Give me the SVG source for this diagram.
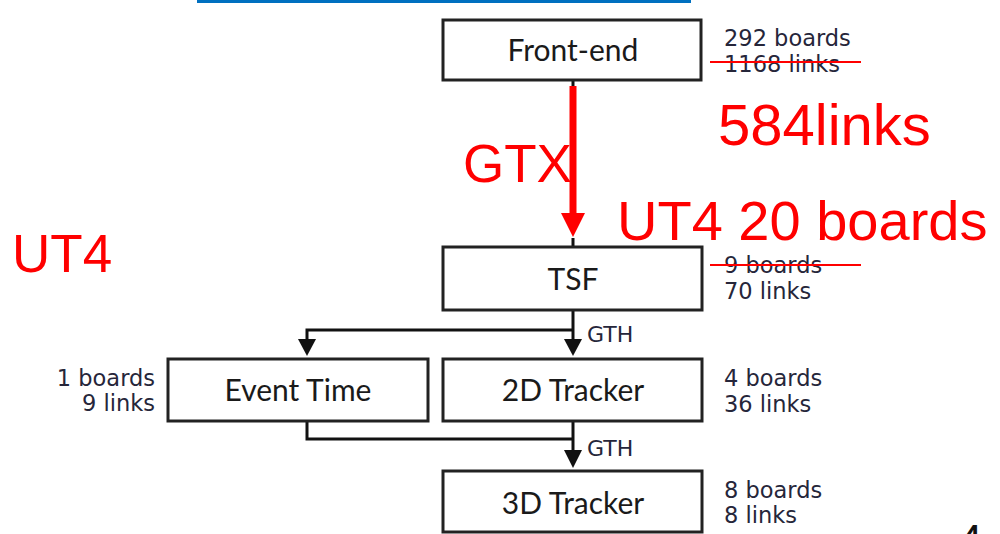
<svg xmlns="http://www.w3.org/2000/svg" width="1000" height="534" viewBox="0 0 1000 534">
<style>
.box{fill:#fff;stroke:#222;stroke-width:3}
.lbl{font-family:Lato,"Liberation Sans",sans-serif;font-size:30px;fill:#1a1a1a;text-anchor:middle}
.side{font-family:"DejaVu Sans",sans-serif;font-size:22.5px;fill:#26263a}
.gth{font-family:"DejaVu Sans",sans-serif;font-size:22px;fill:#26263a}
.red{font-family:"Liberation Sans",Arial,sans-serif;fill:#ff0000}
.conn{fill:none;stroke:#111;stroke-width:3}
.strike{stroke:#ff0000;stroke-width:2}
</style>
<rect x="197" y="0" width="494" height="3" fill="#0070c0"/>
<g id="connectors">
<line class="conn" x1="573" y1="80" x2="573" y2="86"/>
<line class="conn" x1="573" y1="238" x2="573" y2="247"/>
<path d="M573,86 L573,214" stroke="#ff0000" stroke-width="7" fill="none"/>
<path d="M561,213 L585,213 L573,237 Z" fill="#ff0000"/>
<path class="conn" d="M573,310 L573,340"/>
<path class="conn" d="M573,330 L307,330 L307,340"/>
<path d="M564,339 L582,339 L573,356 Z" fill="#111"/>
<path d="M298,339 L316,339 L307,356 Z" fill="#111"/>
<path class="conn" d="M307,421 L307,439 L573,439"/>
<path class="conn" d="M573,421 L573,452"/>
<path d="M564,450 L582,450 L573,468 Z" fill="#111"/>
<text class="gth" x="587" y="342">GTH</text>
<text class="gth" x="587" y="456">GTH</text>
<text class="red" x="463" y="182" font-size="53">GTX</text>
</g>
<g id="frontend">
<rect class="box" x="443" y="20" width="258" height="60"/>
<text class="lbl" x="573" y="61">Front-end</text>
<text class="side" x="724" y="46">292 boards</text>
<text class="side" x="724" y="72">1168 links</text>
<line class="strike" x1="710" y1="62" x2="861" y2="62"/>
</g>
<g id="tsf">
<rect class="box" x="443" y="247" width="259" height="63"/>
<text class="lbl" x="573" y="290">TSF</text>
<text class="side" x="724" y="273">9 boards</text>
<text class="side" x="724" y="299">70 links</text>
<line class="strike" x1="710" y1="265" x2="861" y2="265"/>
</g>
<g id="eventtime">
<rect class="box" x="168" y="359" width="260" height="62"/>
<text class="lbl" x="298" y="401">Event Time</text>
<text class="side" x="155" y="386" text-anchor="end">1 boards</text>
<text class="side" x="155" y="411" text-anchor="end">9 links</text>
</g>
<g id="tracker2d">
<rect class="box" x="443" y="359" width="259" height="62"/>
<text class="lbl" x="573" y="401">2D Tracker</text>
<text class="side" x="724" y="386">4 boards</text>
<text class="side" x="724" y="412">36 links</text>
</g>
<g id="tracker3d">
<rect class="box" x="443" y="471" width="259" height="61"/>
<text class="lbl" x="573" y="514">3D Tracker</text>
<text class="side" x="724" y="498">8 boards</text>
<text class="side" x="724" y="523">8 links</text>
</g>
<g id="annotations">
<text class="red" x="718" y="145" font-size="58">584links</text>
<text class="red" x="617" y="240" font-size="56">UT4 20 boards</text>
<text class="red" x="12" y="272" font-size="53">UT4</text>
<text x="958" y="556" font-family="Liberation Sans,Arial,sans-serif" font-size="44" fill="#111">4</text>
</g>
</svg>
